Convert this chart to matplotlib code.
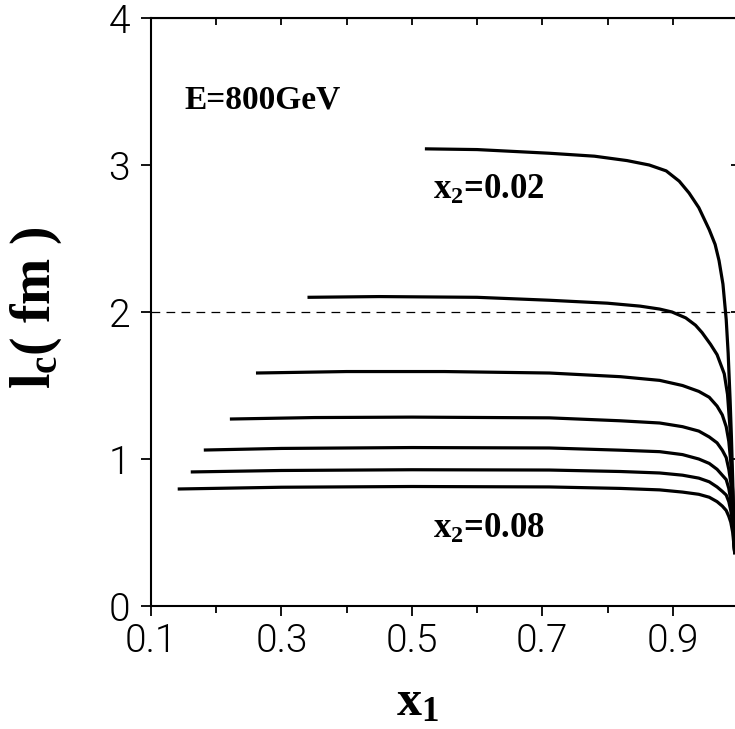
import matplotlib
matplotlib.use('Agg')
import matplotlib.pyplot as plt

plt.rcParams['mathtext.fontset'] = 'custom'
plt.rcParams['mathtext.rm'] = 'Liberation Serif:bold'
plt.rcParams['mathtext.it'] = 'Liberation Serif:bold'
plt.rcParams['mathtext.bf'] = 'Liberation Serif:bold'

# curves l_c(x1), one per x2 value
x2_vals = [0.02, 0.03, 0.04, 0.05, 0.06, 0.07, 0.08]
x1_pts = [
    [0.52, 0.60, 0.711, 0.78, 0.83, 0.864, 0.89, 0.91, 0.925, 0.94, 0.956,
     0.965, 0.971, 0.977, 0.982, 0.985, 0.988, 0.990, 0.992, 0.995],
    [0.34, 0.45, 0.60, 0.711, 0.80, 0.85, 0.88, 0.899, 0.92, 0.935, 0.945,
     0.958, 0.968, 0.979, 0.984, 0.988, 0.991, 0.995],
    [0.261, 0.40, 0.55, 0.711, 0.82, 0.88, 0.915, 0.94, 0.956, 0.968, 0.976,
     0.982, 0.986, 0.989, 0.992, 0.995],
    [0.221, 0.35, 0.50, 0.711, 0.82, 0.88, 0.915, 0.94, 0.956, 0.968, 0.976,
     0.982, 0.986, 0.989, 0.992, 0.995],
    [0.181, 0.30, 0.50, 0.711, 0.82, 0.88, 0.915, 0.94, 0.956, 0.968, 0.976,
     0.982, 0.986, 0.989, 0.992, 0.995],
    [0.161, 0.30, 0.50, 0.711, 0.82, 0.88, 0.915, 0.94, 0.956, 0.968, 0.976,
     0.982, 0.986, 0.989, 0.992, 0.995],
    [0.141, 0.30, 0.50, 0.711, 0.82, 0.88, 0.915, 0.94, 0.956, 0.968, 0.976,
     0.982, 0.986, 0.989, 0.992, 0.995],
]
lc_pts = [
    [3.11, 3.105, 3.08, 3.06, 3.03, 3.00, 2.96, 2.89, 2.81, 2.71, 2.56,
     2.46, 2.35, 2.19, 1.95, 1.72, 1.40, 1.15, 0.85, 0.35],
    [2.10, 2.105, 2.10, 2.08, 2.06, 2.04, 2.02, 2.00, 1.96, 1.91, 1.86,
     1.78, 1.71, 1.58, 1.44, 1.20, 0.86, 0.37],
    [1.585, 1.595, 1.595, 1.585, 1.56, 1.535, 1.50, 1.46, 1.42, 1.36, 1.30,
     1.22, 1.12, 0.98, 0.78, 0.36],
    [1.272, 1.282, 1.285, 1.28, 1.26, 1.245, 1.22, 1.19, 1.15, 1.11, 1.06,
     1.01, 0.93, 0.84, 0.68, 0.36],
    [1.061, 1.072, 1.078, 1.075, 1.06, 1.05, 1.03, 1.00, 0.97, 0.93, 0.89,
     0.86, 0.80, 0.72, 0.60, 0.36],
    [0.912, 0.922, 0.927, 0.925, 0.915, 0.905, 0.89, 0.87, 0.845, 0.81, 0.78,
     0.755, 0.71, 0.65, 0.56, 0.36],
    [0.796, 0.808, 0.813, 0.81, 0.80, 0.79, 0.775, 0.76, 0.74, 0.71, 0.68,
     0.65, 0.61, 0.57, 0.50, 0.36],
]
x_ticks = [0.1, 0.3, 0.5, 0.7, 0.9]
y_ticks = [0, 1, 2, 3, 4]

fig = plt.figure(figsize=(7.35, 7.29), dpi=100)
ax = fig.add_axes([0.2054, 0.1687, 0.7986, 0.8066])

for xs, ys in zip(x1_pts, lc_pts):
    ax.plot(xs, ys, color='black', lw=2.3, solid_capstyle='butt',
            solid_joinstyle='round')

ax.axhline(2.0, color='black', lw=0.9, ls=(0, (7, 5)))

ax.set_xlim(0.1, 1.0)
ax.set_ylim(0, 4)
ax.set_xticks(x_ticks)
ax.set_xticks([0.2, 0.4, 0.6, 0.8, 1.0], minor=True)
ax.set_xticklabels([str(t) for t in x_ticks])
ax.set_yticks(y_ticks)
ax.set_yticklabels([str(t) for t in y_ticks])
for s in ax.spines.values():
    s.set_linewidth(1.5)
ax.tick_params(which='major', direction='out', length=7, width=1.3, pad=8)
ax.tick_params(which='minor', direction='out', length=5, width=1.3)
ax.tick_params(axis='x', which='major', pad=5)
for lab in ax.get_xticklabels() + ax.get_yticklabels():
    lab.set_family('Roboto')
    lab.set_weight(300)
    lab.set_fontsize(28)
    lab.set_color('black')

top = ax.secondary_xaxis('top')
top.set_xticks([0.1, 0.2, 0.3, 0.4, 0.5, 0.6, 0.7, 0.8, 0.9, 1.0])
top.tick_params(direction='in', length=5, width=1.3, labeltop=False)
right = ax.secondary_yaxis('right')
right.set_yticks(y_ticks)
right.tick_params(direction='in', length=5, width=1.3, labelright=False)

ax.text(0.152, 3.44, 'E=800GeV', family='Liberation Serif', weight='bold',
        fontsize=24, va='center', ha='left')
ax.text(0.532, 2.83, r'$x_2$=0.02', family='Liberation Serif', weight='bold',
        fontsize=25, va='center', ha='left')
ax.text(0.532, 0.52, r'$x_2$=0.08', family='Liberation Serif', weight='bold',
        fontsize=25, va='center', ha='left')

fig.text(0.05, 0.578, r'$l_c$( fm )', family='Liberation Serif', weight='bold',
         fontsize=40, rotation=90, va='center', ha='center')
fig.text(0.568, 0.035, r'$x_1$', family='Liberation Serif', weight='bold',
         fontsize=36, va='center', ha='center')

fig.savefig('out.png', dpi=100)
